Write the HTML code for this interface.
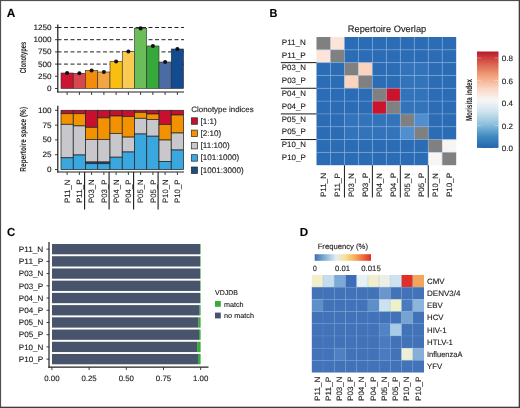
<!DOCTYPE html>
<html><head><meta charset="utf-8"><style>
html,body{margin:0;padding:0;background:#fff;}
body{position:relative;width:520px;height:408px;overflow:hidden;}
svg{display:block;filter:blur(0.3px);}
svg.ov{position:absolute;left:0;top:0;filter:none;}
text{font-family:"Liberation Sans", sans-serif;text-rendering:geometricPrecision;stroke:#222;stroke-width:0.12px;}
</style></head><body>
<svg width="520" height="408" viewBox="0 0 520 408">
<rect x="0" y="0" width="520" height="408" fill="#fff"/>
<text x="6.8" y="17.4" font-size="11.8" text-anchor="start" fill="#000" font-weight="bold" textLength="8.6" lengthAdjust="spacingAndGlyphs">A</text>
<line x1="57.5" y1="64.1" x2="184" y2="64.1" stroke="#222" stroke-width="1.0" stroke-dasharray="4 2.5"/>
<line x1="57.5" y1="51.9" x2="184" y2="51.9" stroke="#222" stroke-width="1.0" stroke-dasharray="4 2.5"/>
<line x1="57.5" y1="39.7" x2="184" y2="39.7" stroke="#222" stroke-width="1.0" stroke-dasharray="4 2.5"/>
<line x1="57.5" y1="27.5" x2="184" y2="27.5" stroke="#222" stroke-width="1.0" stroke-dasharray="4 2.5"/>
<rect x="61" y="73" width="12.25" height="15.5" fill="#CC1430" stroke="#2a2a2a" stroke-width="0.6"/>
<rect x="73.25" y="73.3" width="12.25" height="15.2" fill="#D9474E" stroke="#2a2a2a" stroke-width="0.6"/>
<rect x="85.5" y="70.5" width="12.25" height="18" fill="#F28C0A" stroke="#2a2a2a" stroke-width="0.6"/>
<rect x="97.75" y="72" width="12.25" height="16.5" fill="#F5A444" stroke="#2a2a2a" stroke-width="0.6"/>
<rect x="110" y="61.5" width="12.25" height="27" fill="#F9BE10" stroke="#2a2a2a" stroke-width="0.6"/>
<rect x="122.25" y="51.5" width="12.25" height="37" fill="#FACB52" stroke="#2a2a2a" stroke-width="0.6"/>
<rect x="134.5" y="28.4" width="12.25" height="60.1" fill="#6BBD5A" stroke="#2a2a2a" stroke-width="0.6"/>
<rect x="146.75" y="46" width="12.25" height="42.5" fill="#36A93A" stroke="#2a2a2a" stroke-width="0.6"/>
<rect x="159" y="62" width="12.25" height="26.5" fill="#4A6BA3" stroke="#2a2a2a" stroke-width="0.6"/>
<rect x="171.25" y="49" width="12.25" height="39.5" fill="#124C8E" stroke="#2a2a2a" stroke-width="0.6"/>
<circle cx="67.12" cy="73" r="2.05" fill="#111"/>
<circle cx="79.38" cy="73.3" r="2.05" fill="#111"/>
<circle cx="91.62" cy="70.5" r="2.05" fill="#111"/>
<circle cx="103.88" cy="72" r="2.05" fill="#111"/>
<circle cx="116.12" cy="61.5" r="2.05" fill="#111"/>
<circle cx="128.38" cy="51.5" r="2.05" fill="#111"/>
<circle cx="140.62" cy="28.4" r="2.05" fill="#111"/>
<circle cx="152.88" cy="46" r="2.05" fill="#111"/>
<circle cx="165.12" cy="62" r="2.05" fill="#111"/>
<circle cx="177.38" cy="49" r="2.05" fill="#111"/>
<line x1="57.8" y1="24.5" x2="57.8" y2="92.5" stroke="#222" stroke-width="1.25"/>
<line x1="57.2" y1="92" x2="184" y2="92" stroke="#222" stroke-width="1.2"/>
<line x1="55" y1="88.5" x2="58" y2="88.5" stroke="#2a2a2a" stroke-width="0.9"/>
<text x="51.6" y="91" font-size="7.8" text-anchor="end" fill="#1a1a1a" textLength="4.55" lengthAdjust="spacingAndGlyphs">0</text>
<line x1="55" y1="76.3" x2="58" y2="76.3" stroke="#2a2a2a" stroke-width="0.9"/>
<text x="51.6" y="78.8" font-size="7.8" text-anchor="end" fill="#1a1a1a" textLength="13.65" lengthAdjust="spacingAndGlyphs">250</text>
<line x1="55" y1="64.1" x2="58" y2="64.1" stroke="#2a2a2a" stroke-width="0.9"/>
<text x="51.6" y="66.6" font-size="7.8" text-anchor="end" fill="#1a1a1a" textLength="13.65" lengthAdjust="spacingAndGlyphs">500</text>
<line x1="55" y1="51.9" x2="58" y2="51.9" stroke="#2a2a2a" stroke-width="0.9"/>
<text x="51.6" y="54.4" font-size="7.8" text-anchor="end" fill="#1a1a1a" textLength="13.65" lengthAdjust="spacingAndGlyphs">750</text>
<line x1="55" y1="39.7" x2="58" y2="39.7" stroke="#2a2a2a" stroke-width="0.9"/>
<text x="51.6" y="42.2" font-size="7.8" text-anchor="end" fill="#1a1a1a" textLength="18.2" lengthAdjust="spacingAndGlyphs">1000</text>
<line x1="55" y1="27.5" x2="58" y2="27.5" stroke="#2a2a2a" stroke-width="0.9"/>
<text x="51.6" y="30" font-size="7.8" text-anchor="end" fill="#1a1a1a" textLength="18.2" lengthAdjust="spacingAndGlyphs">1250</text>
<line x1="67.12" y1="92" x2="67.12" y2="95" stroke="#2a2a2a" stroke-width="0.9"/>
<line x1="79.38" y1="92" x2="79.38" y2="95" stroke="#2a2a2a" stroke-width="0.9"/>
<line x1="91.62" y1="92" x2="91.62" y2="95" stroke="#2a2a2a" stroke-width="0.9"/>
<line x1="103.88" y1="92" x2="103.88" y2="95" stroke="#2a2a2a" stroke-width="0.9"/>
<line x1="116.12" y1="92" x2="116.12" y2="95" stroke="#2a2a2a" stroke-width="0.9"/>
<line x1="128.38" y1="92" x2="128.38" y2="95" stroke="#2a2a2a" stroke-width="0.9"/>
<line x1="140.62" y1="92" x2="140.62" y2="95" stroke="#2a2a2a" stroke-width="0.9"/>
<line x1="152.88" y1="92" x2="152.88" y2="95" stroke="#2a2a2a" stroke-width="0.9"/>
<line x1="165.12" y1="92" x2="165.12" y2="95" stroke="#2a2a2a" stroke-width="0.9"/>
<line x1="177.38" y1="92" x2="177.38" y2="95" stroke="#2a2a2a" stroke-width="0.9"/>
<text x="26.3" y="57.6" font-size="8.6" text-anchor="middle" fill="#1a1a1a" font-weight="bold" textLength="31.4" lengthAdjust="spacingAndGlyphs" transform="rotate(-90 26.3 57.6)" style="stroke-width:0px">Clonotypes</text>
<rect x="61" y="110.3" width="12.25" height="3.4" fill="#C8102E" stroke="#252525" stroke-width="0.75"/>
<rect x="61" y="113.7" width="12.25" height="10.6" fill="#F39200" stroke="#252525" stroke-width="0.75"/>
<rect x="61" y="124.3" width="12.25" height="33.5" fill="#C8C8CC" stroke="#252525" stroke-width="0.75"/>
<rect x="61" y="157.8" width="12.25" height="11.7" fill="#3AA8DE" stroke="#252525" stroke-width="0.75"/>
<rect x="73.25" y="110.3" width="12.25" height="3.4" fill="#C8102E" stroke="#252525" stroke-width="0.75"/>
<rect x="73.25" y="113.7" width="12.25" height="12.2" fill="#F39200" stroke="#252525" stroke-width="0.75"/>
<rect x="73.25" y="125.9" width="12.25" height="29.1" fill="#C8C8CC" stroke="#252525" stroke-width="0.75"/>
<rect x="73.25" y="155" width="12.25" height="14.5" fill="#3AA8DE" stroke="#252525" stroke-width="0.75"/>
<rect x="85.5" y="110.3" width="12.25" height="17" fill="#C8102E" stroke="#252525" stroke-width="0.75"/>
<rect x="85.5" y="127.3" width="12.25" height="12.1" fill="#F39200" stroke="#252525" stroke-width="0.75"/>
<rect x="85.5" y="139.4" width="12.25" height="22.6" fill="#C8C8CC" stroke="#252525" stroke-width="0.75"/>
<rect x="85.5" y="162" width="12.25" height="1.7" fill="#1A4F86" stroke="#252525" stroke-width="0.75"/>
<rect x="85.5" y="163.7" width="12.25" height="5.8" fill="#3AA8DE" stroke="#252525" stroke-width="0.75"/>
<rect x="97.75" y="110.3" width="12.25" height="7.6" fill="#C8102E" stroke="#252525" stroke-width="0.75"/>
<rect x="97.75" y="117.9" width="12.25" height="21.5" fill="#F39200" stroke="#252525" stroke-width="0.75"/>
<rect x="97.75" y="139.4" width="12.25" height="22.6" fill="#C8C8CC" stroke="#252525" stroke-width="0.75"/>
<rect x="97.75" y="162" width="12.25" height="1.7" fill="#1A4F86" stroke="#252525" stroke-width="0.75"/>
<rect x="97.75" y="163.7" width="12.25" height="5.8" fill="#3AA8DE" stroke="#252525" stroke-width="0.75"/>
<rect x="110" y="110.3" width="12.25" height="5.7" fill="#C8102E" stroke="#252525" stroke-width="0.75"/>
<rect x="110" y="116" width="12.25" height="17.4" fill="#F39200" stroke="#252525" stroke-width="0.75"/>
<rect x="110" y="133.4" width="12.25" height="23.8" fill="#C8C8CC" stroke="#252525" stroke-width="0.75"/>
<rect x="110" y="157.2" width="12.25" height="12.3" fill="#3AA8DE" stroke="#252525" stroke-width="0.75"/>
<rect x="122.25" y="110.3" width="12.25" height="6.2" fill="#C8102E" stroke="#252525" stroke-width="0.75"/>
<rect x="122.25" y="116.5" width="12.25" height="20.6" fill="#F39200" stroke="#252525" stroke-width="0.75"/>
<rect x="122.25" y="137.1" width="12.25" height="14.9" fill="#C8C8CC" stroke="#252525" stroke-width="0.75"/>
<rect x="122.25" y="152" width="12.25" height="17.5" fill="#3AA8DE" stroke="#252525" stroke-width="0.75"/>
<rect x="134.5" y="110.3" width="12.25" height="2" fill="#C8102E" stroke="#252525" stroke-width="0.75"/>
<rect x="134.5" y="112.3" width="12.25" height="6" fill="#F39200" stroke="#252525" stroke-width="0.75"/>
<rect x="134.5" y="118.3" width="12.25" height="15.7" fill="#C8C8CC" stroke="#252525" stroke-width="0.75"/>
<rect x="134.5" y="134" width="12.25" height="35.5" fill="#3AA8DE" stroke="#252525" stroke-width="0.75"/>
<rect x="146.75" y="110.3" width="12.25" height="3.7" fill="#C8102E" stroke="#252525" stroke-width="0.75"/>
<rect x="146.75" y="114" width="12.25" height="5.4" fill="#F39200" stroke="#252525" stroke-width="0.75"/>
<rect x="146.75" y="119.4" width="12.25" height="16.8" fill="#C8C8CC" stroke="#252525" stroke-width="0.75"/>
<rect x="146.75" y="136.2" width="12.25" height="33.3" fill="#3AA8DE" stroke="#252525" stroke-width="0.75"/>
<rect x="159" y="110.3" width="12.25" height="14.2" fill="#C8102E" stroke="#252525" stroke-width="0.75"/>
<rect x="159" y="124.5" width="12.25" height="15.5" fill="#F39200" stroke="#252525" stroke-width="0.75"/>
<rect x="159" y="140" width="12.25" height="21.5" fill="#C8C8CC" stroke="#252525" stroke-width="0.75"/>
<rect x="159" y="161.5" width="12.25" height="8" fill="#3AA8DE" stroke="#252525" stroke-width="0.75"/>
<rect x="171.25" y="110.3" width="12.25" height="4.7" fill="#C8102E" stroke="#252525" stroke-width="0.75"/>
<rect x="171.25" y="115" width="12.25" height="18" fill="#F39200" stroke="#252525" stroke-width="0.75"/>
<rect x="171.25" y="133" width="12.25" height="17" fill="#C8C8CC" stroke="#252525" stroke-width="0.75"/>
<rect x="171.25" y="150" width="12.25" height="19.5" fill="#3AA8DE" stroke="#252525" stroke-width="0.75"/>
<line x1="57.8" y1="105.8" x2="57.8" y2="172.5" stroke="#222" stroke-width="1.25"/>
<line x1="57.2" y1="172" x2="184" y2="172" stroke="#222" stroke-width="1.2"/>
<line x1="55" y1="169.5" x2="58" y2="169.5" stroke="#2a2a2a" stroke-width="0.9"/>
<text x="51.6" y="171.9" font-size="7.8" text-anchor="end" fill="#1a1a1a" textLength="4.55" lengthAdjust="spacingAndGlyphs">0</text>
<line x1="55" y1="154.7" x2="58" y2="154.7" stroke="#2a2a2a" stroke-width="0.9"/>
<text x="51.6" y="157.1" font-size="7.8" text-anchor="end" fill="#1a1a1a" textLength="9.1" lengthAdjust="spacingAndGlyphs">25</text>
<line x1="55" y1="139.9" x2="58" y2="139.9" stroke="#2a2a2a" stroke-width="0.9"/>
<text x="51.6" y="142.3" font-size="7.8" text-anchor="end" fill="#1a1a1a" textLength="9.1" lengthAdjust="spacingAndGlyphs">50</text>
<line x1="55" y1="125.1" x2="58" y2="125.1" stroke="#2a2a2a" stroke-width="0.9"/>
<text x="51.6" y="127.5" font-size="7.8" text-anchor="end" fill="#1a1a1a" textLength="9.1" lengthAdjust="spacingAndGlyphs">75</text>
<line x1="55" y1="110.3" x2="58" y2="110.3" stroke="#2a2a2a" stroke-width="0.9"/>
<text x="51.6" y="112.7" font-size="7.8" text-anchor="end" fill="#1a1a1a" textLength="13.65" lengthAdjust="spacingAndGlyphs">100</text>
<line x1="67.12" y1="172" x2="67.12" y2="175" stroke="#2a2a2a" stroke-width="0.9"/>
<text x="69.83" y="179.5" font-size="7.8" text-anchor="end" fill="#1a1a1a" textLength="23.5" lengthAdjust="spacingAndGlyphs" transform="rotate(-90 69.83 179.5)">P11_N</text>
<line x1="79.38" y1="172" x2="79.38" y2="175" stroke="#2a2a2a" stroke-width="0.9"/>
<text x="82.08" y="179.5" font-size="7.8" text-anchor="end" fill="#1a1a1a" textLength="23.5" lengthAdjust="spacingAndGlyphs" transform="rotate(-90 82.08 179.5)">P11_P</text>
<line x1="91.62" y1="172" x2="91.62" y2="175" stroke="#2a2a2a" stroke-width="0.9"/>
<text x="94.33" y="179.5" font-size="7.8" text-anchor="end" fill="#1a1a1a" textLength="23.5" lengthAdjust="spacingAndGlyphs" transform="rotate(-90 94.33 179.5)">P03_N</text>
<line x1="103.88" y1="172" x2="103.88" y2="175" stroke="#2a2a2a" stroke-width="0.9"/>
<text x="106.58" y="179.5" font-size="7.8" text-anchor="end" fill="#1a1a1a" textLength="23.5" lengthAdjust="spacingAndGlyphs" transform="rotate(-90 106.58 179.5)">P03_P</text>
<line x1="116.12" y1="172" x2="116.12" y2="175" stroke="#2a2a2a" stroke-width="0.9"/>
<text x="118.83" y="179.5" font-size="7.8" text-anchor="end" fill="#1a1a1a" textLength="23.5" lengthAdjust="spacingAndGlyphs" transform="rotate(-90 118.83 179.5)">P04_N</text>
<line x1="128.38" y1="172" x2="128.38" y2="175" stroke="#2a2a2a" stroke-width="0.9"/>
<text x="131.07" y="179.5" font-size="7.8" text-anchor="end" fill="#1a1a1a" textLength="23.5" lengthAdjust="spacingAndGlyphs" transform="rotate(-90 131.07 179.5)">P04_P</text>
<line x1="140.62" y1="172" x2="140.62" y2="175" stroke="#2a2a2a" stroke-width="0.9"/>
<text x="143.32" y="179.5" font-size="7.8" text-anchor="end" fill="#1a1a1a" textLength="23.5" lengthAdjust="spacingAndGlyphs" transform="rotate(-90 143.32 179.5)">P05_N</text>
<line x1="152.88" y1="172" x2="152.88" y2="175" stroke="#2a2a2a" stroke-width="0.9"/>
<text x="155.57" y="179.5" font-size="7.8" text-anchor="end" fill="#1a1a1a" textLength="23.5" lengthAdjust="spacingAndGlyphs" transform="rotate(-90 155.57 179.5)">P05_P</text>
<line x1="165.12" y1="172" x2="165.12" y2="175" stroke="#2a2a2a" stroke-width="0.9"/>
<text x="167.82" y="179.5" font-size="7.8" text-anchor="end" fill="#1a1a1a" textLength="23.5" lengthAdjust="spacingAndGlyphs" transform="rotate(-90 167.82 179.5)">P10_N</text>
<line x1="177.38" y1="172" x2="177.38" y2="175" stroke="#2a2a2a" stroke-width="0.9"/>
<text x="180.07" y="179.5" font-size="7.8" text-anchor="end" fill="#1a1a1a" textLength="23.5" lengthAdjust="spacingAndGlyphs" transform="rotate(-90 180.07 179.5)">P10_P</text>
<line x1="84.6" y1="172" x2="84.6" y2="209.5" stroke="#1a1a1a" stroke-width="1.1"/>
<line x1="109.1" y1="172" x2="109.1" y2="209.5" stroke="#1a1a1a" stroke-width="1.1"/>
<line x1="133.6" y1="172" x2="133.6" y2="209.5" stroke="#1a1a1a" stroke-width="1.1"/>
<line x1="158.1" y1="172" x2="158.1" y2="209.5" stroke="#1a1a1a" stroke-width="1.1"/>
<text x="26.3" y="139.3" font-size="8.6" text-anchor="middle" fill="#1a1a1a" font-weight="bold" textLength="64.7" lengthAdjust="spacingAndGlyphs" transform="rotate(-90 26.3 139.3)" style="stroke-width:0px">Repertoire space (%)</text>
<text x="191.3" y="111.7" font-size="7.9" text-anchor="start" fill="#1a1a1a" textLength="62.3" lengthAdjust="spacingAndGlyphs">Clonotype indices</text>
<rect x="191.3" y="117.8" width="6.2" height="6.5" fill="#C8102E" stroke="#2a2a2a" stroke-width="0.7"/>
<text x="200.6" y="123.5" font-size="8.1" text-anchor="start" fill="#1a1a1a">[1:1)</text>
<rect x="191.3" y="130.1" width="6.2" height="6.5" fill="#F39200" stroke="#2a2a2a" stroke-width="0.7"/>
<text x="200.6" y="135.8" font-size="8.1" text-anchor="start" fill="#1a1a1a">[2:10)</text>
<rect x="191.3" y="142.4" width="6.2" height="6.5" fill="#C8C8CC" stroke="#2a2a2a" stroke-width="0.7"/>
<text x="200.6" y="148.1" font-size="8.1" text-anchor="start" fill="#1a1a1a">[11:100)</text>
<rect x="191.3" y="154.7" width="6.2" height="6.5" fill="#3AA8DE" stroke="#2a2a2a" stroke-width="0.7"/>
<text x="200.6" y="160.4" font-size="8.1" text-anchor="start" fill="#1a1a1a">[101:1000)</text>
<rect x="191.3" y="167" width="6.2" height="6.5" fill="#1A4F86" stroke="#2a2a2a" stroke-width="0.7"/>
<text x="200.6" y="172.7" font-size="8.1" text-anchor="start" fill="#1a1a1a">[1001:3000)</text>
<text x="269.6" y="17.1" font-size="11.6" text-anchor="start" fill="#000" font-weight="bold" textLength="7.9" lengthAdjust="spacingAndGlyphs">B</text>
<text x="387" y="31.7" font-size="9.3" text-anchor="middle" fill="#1a1a1a" textLength="78.5" lengthAdjust="spacingAndGlyphs">Repertoire Overlap</text>
<rect x="316.5" y="37" width="13.97" height="12.82" fill="#808080"/>
<rect x="330.47" y="37" width="13.97" height="12.82" fill="#FCE5D8"/>
<rect x="344.44" y="37" width="13.97" height="12.82" fill="#2B6CB4"/>
<rect x="358.41" y="37" width="13.97" height="12.82" fill="#2B6CB4"/>
<rect x="372.38" y="37" width="13.97" height="12.82" fill="#2B6CB4"/>
<rect x="386.35" y="37" width="13.97" height="12.82" fill="#2B6CB4"/>
<rect x="400.32" y="37" width="13.97" height="12.82" fill="#2B6CB4"/>
<rect x="414.29" y="37" width="13.97" height="12.82" fill="#2B6CB4"/>
<rect x="428.26" y="37" width="13.97" height="12.82" fill="#2B6CB4"/>
<rect x="442.23" y="37" width="13.97" height="12.82" fill="#2B6CB4"/>
<rect x="316.5" y="49.82" width="13.97" height="12.82" fill="#FCE5D8"/>
<rect x="330.47" y="49.82" width="13.97" height="12.82" fill="#808080"/>
<rect x="344.44" y="49.82" width="13.97" height="12.82" fill="#2B6CB4"/>
<rect x="358.41" y="49.82" width="13.97" height="12.82" fill="#2B6CB4"/>
<rect x="372.38" y="49.82" width="13.97" height="12.82" fill="#2B6CB4"/>
<rect x="386.35" y="49.82" width="13.97" height="12.82" fill="#2B6CB4"/>
<rect x="400.32" y="49.82" width="13.97" height="12.82" fill="#2B6CB4"/>
<rect x="414.29" y="49.82" width="13.97" height="12.82" fill="#2B6CB4"/>
<rect x="428.26" y="49.82" width="13.97" height="12.82" fill="#2B6CB4"/>
<rect x="442.23" y="49.82" width="13.97" height="12.82" fill="#2B6CB4"/>
<rect x="316.5" y="62.64" width="13.97" height="12.82" fill="#2B6CB4"/>
<rect x="330.47" y="62.64" width="13.97" height="12.82" fill="#2B6CB4"/>
<rect x="344.44" y="62.64" width="13.97" height="12.82" fill="#808080"/>
<rect x="358.41" y="62.64" width="13.97" height="12.82" fill="#FCD3BC"/>
<rect x="372.38" y="62.64" width="13.97" height="12.82" fill="#2B6CB4"/>
<rect x="386.35" y="62.64" width="13.97" height="12.82" fill="#2B6CB4"/>
<rect x="400.32" y="62.64" width="13.97" height="12.82" fill="#3273BA"/>
<rect x="414.29" y="62.64" width="13.97" height="12.82" fill="#3273BA"/>
<rect x="428.26" y="62.64" width="13.97" height="12.82" fill="#2B6CB4"/>
<rect x="442.23" y="62.64" width="13.97" height="12.82" fill="#2B6CB4"/>
<rect x="316.5" y="75.46" width="13.97" height="12.82" fill="#2B6CB4"/>
<rect x="330.47" y="75.46" width="13.97" height="12.82" fill="#2B6CB4"/>
<rect x="344.44" y="75.46" width="13.97" height="12.82" fill="#FCD3BC"/>
<rect x="358.41" y="75.46" width="13.97" height="12.82" fill="#808080"/>
<rect x="372.38" y="75.46" width="13.97" height="12.82" fill="#2B6CB4"/>
<rect x="386.35" y="75.46" width="13.97" height="12.82" fill="#2B6CB4"/>
<rect x="400.32" y="75.46" width="13.97" height="12.82" fill="#3273BA"/>
<rect x="414.29" y="75.46" width="13.97" height="12.82" fill="#3273BA"/>
<rect x="428.26" y="75.46" width="13.97" height="12.82" fill="#2B6CB4"/>
<rect x="442.23" y="75.46" width="13.97" height="12.82" fill="#2B6CB4"/>
<rect x="316.5" y="88.28" width="13.97" height="12.82" fill="#2B6CB4"/>
<rect x="330.47" y="88.28" width="13.97" height="12.82" fill="#2B6CB4"/>
<rect x="344.44" y="88.28" width="13.97" height="12.82" fill="#2B6CB4"/>
<rect x="358.41" y="88.28" width="13.97" height="12.82" fill="#2B6CB4"/>
<rect x="372.38" y="88.28" width="13.97" height="12.82" fill="#808080"/>
<rect x="386.35" y="88.28" width="13.97" height="12.82" fill="#C9142B"/>
<rect x="400.32" y="88.28" width="13.97" height="12.82" fill="#3273BA"/>
<rect x="414.29" y="88.28" width="13.97" height="12.82" fill="#3273BA"/>
<rect x="428.26" y="88.28" width="13.97" height="12.82" fill="#2B6CB4"/>
<rect x="442.23" y="88.28" width="13.97" height="12.82" fill="#2B6CB4"/>
<rect x="316.5" y="101.1" width="13.97" height="12.82" fill="#2B6CB4"/>
<rect x="330.47" y="101.1" width="13.97" height="12.82" fill="#2B6CB4"/>
<rect x="344.44" y="101.1" width="13.97" height="12.82" fill="#2B6CB4"/>
<rect x="358.41" y="101.1" width="13.97" height="12.82" fill="#2B6CB4"/>
<rect x="372.38" y="101.1" width="13.97" height="12.82" fill="#C9142B"/>
<rect x="386.35" y="101.1" width="13.97" height="12.82" fill="#808080"/>
<rect x="400.32" y="101.1" width="13.97" height="12.82" fill="#3273BA"/>
<rect x="414.29" y="101.1" width="13.97" height="12.82" fill="#3273BA"/>
<rect x="428.26" y="101.1" width="13.97" height="12.82" fill="#2B6CB4"/>
<rect x="442.23" y="101.1" width="13.97" height="12.82" fill="#2B6CB4"/>
<rect x="316.5" y="113.92" width="13.97" height="12.82" fill="#2B6CB4"/>
<rect x="330.47" y="113.92" width="13.97" height="12.82" fill="#2B6CB4"/>
<rect x="344.44" y="113.92" width="13.97" height="12.82" fill="#3273BA"/>
<rect x="358.41" y="113.92" width="13.97" height="12.82" fill="#3273BA"/>
<rect x="372.38" y="113.92" width="13.97" height="12.82" fill="#3273BA"/>
<rect x="386.35" y="113.92" width="13.97" height="12.82" fill="#3273BA"/>
<rect x="400.32" y="113.92" width="13.97" height="12.82" fill="#808080"/>
<rect x="414.29" y="113.92" width="13.97" height="12.82" fill="#508ECD"/>
<rect x="428.26" y="113.92" width="13.97" height="12.82" fill="#2B6CB4"/>
<rect x="442.23" y="113.92" width="13.97" height="12.82" fill="#2B6CB4"/>
<rect x="316.5" y="126.74" width="13.97" height="12.82" fill="#2B6CB4"/>
<rect x="330.47" y="126.74" width="13.97" height="12.82" fill="#2B6CB4"/>
<rect x="344.44" y="126.74" width="13.97" height="12.82" fill="#3273BA"/>
<rect x="358.41" y="126.74" width="13.97" height="12.82" fill="#3273BA"/>
<rect x="372.38" y="126.74" width="13.97" height="12.82" fill="#3273BA"/>
<rect x="386.35" y="126.74" width="13.97" height="12.82" fill="#3273BA"/>
<rect x="400.32" y="126.74" width="13.97" height="12.82" fill="#508ECD"/>
<rect x="414.29" y="126.74" width="13.97" height="12.82" fill="#808080"/>
<rect x="428.26" y="126.74" width="13.97" height="12.82" fill="#2B6CB4"/>
<rect x="442.23" y="126.74" width="13.97" height="12.82" fill="#2B6CB4"/>
<rect x="316.5" y="139.56" width="13.97" height="12.82" fill="#2B6CB4"/>
<rect x="330.47" y="139.56" width="13.97" height="12.82" fill="#2B6CB4"/>
<rect x="344.44" y="139.56" width="13.97" height="12.82" fill="#2B6CB4"/>
<rect x="358.41" y="139.56" width="13.97" height="12.82" fill="#2B6CB4"/>
<rect x="372.38" y="139.56" width="13.97" height="12.82" fill="#2B6CB4"/>
<rect x="386.35" y="139.56" width="13.97" height="12.82" fill="#2B6CB4"/>
<rect x="400.32" y="139.56" width="13.97" height="12.82" fill="#2B6CB4"/>
<rect x="414.29" y="139.56" width="13.97" height="12.82" fill="#2B6CB4"/>
<rect x="428.26" y="139.56" width="13.97" height="12.82" fill="#808080"/>
<rect x="442.23" y="139.56" width="13.97" height="12.82" fill="#F8F4F2"/>
<rect x="316.5" y="152.38" width="13.97" height="12.82" fill="#2B6CB4"/>
<rect x="330.47" y="152.38" width="13.97" height="12.82" fill="#2B6CB4"/>
<rect x="344.44" y="152.38" width="13.97" height="12.82" fill="#2B6CB4"/>
<rect x="358.41" y="152.38" width="13.97" height="12.82" fill="#2B6CB4"/>
<rect x="372.38" y="152.38" width="13.97" height="12.82" fill="#2B6CB4"/>
<rect x="386.35" y="152.38" width="13.97" height="12.82" fill="#2B6CB4"/>
<rect x="400.32" y="152.38" width="13.97" height="12.82" fill="#2B6CB4"/>
<rect x="414.29" y="152.38" width="13.97" height="12.82" fill="#2B6CB4"/>
<rect x="428.26" y="152.38" width="13.97" height="12.82" fill="#F8F4F2"/>
<rect x="442.23" y="152.38" width="13.97" height="12.82" fill="#808080"/>
<line x1="316.5" y1="49.82" x2="456.2" y2="49.82" stroke="#8DB8E6" stroke-width="0.6" stroke-opacity="0.7"/>
<line x1="316.5" y1="62.64" x2="456.2" y2="62.64" stroke="#8DB8E6" stroke-width="0.6" stroke-opacity="0.7"/>
<line x1="316.5" y1="75.46" x2="456.2" y2="75.46" stroke="#8DB8E6" stroke-width="0.6" stroke-opacity="0.7"/>
<line x1="316.5" y1="88.28" x2="456.2" y2="88.28" stroke="#8DB8E6" stroke-width="0.6" stroke-opacity="0.7"/>
<line x1="316.5" y1="101.1" x2="456.2" y2="101.1" stroke="#8DB8E6" stroke-width="0.6" stroke-opacity="0.7"/>
<line x1="316.5" y1="113.92" x2="456.2" y2="113.92" stroke="#8DB8E6" stroke-width="0.6" stroke-opacity="0.7"/>
<line x1="316.5" y1="126.74" x2="456.2" y2="126.74" stroke="#8DB8E6" stroke-width="0.6" stroke-opacity="0.7"/>
<line x1="316.5" y1="139.56" x2="456.2" y2="139.56" stroke="#8DB8E6" stroke-width="0.6" stroke-opacity="0.7"/>
<line x1="316.5" y1="152.38" x2="456.2" y2="152.38" stroke="#8DB8E6" stroke-width="0.6" stroke-opacity="0.7"/>
<line x1="330.47" y1="37" x2="330.47" y2="165.2" stroke="#8DB8E6" stroke-width="0.6" stroke-opacity="0.7"/>
<line x1="344.44" y1="37" x2="344.44" y2="165.2" stroke="#8DB8E6" stroke-width="0.6" stroke-opacity="0.7"/>
<line x1="358.41" y1="37" x2="358.41" y2="165.2" stroke="#8DB8E6" stroke-width="0.6" stroke-opacity="0.7"/>
<line x1="372.38" y1="37" x2="372.38" y2="165.2" stroke="#8DB8E6" stroke-width="0.6" stroke-opacity="0.7"/>
<line x1="386.35" y1="37" x2="386.35" y2="165.2" stroke="#8DB8E6" stroke-width="0.6" stroke-opacity="0.7"/>
<line x1="400.32" y1="37" x2="400.32" y2="165.2" stroke="#8DB8E6" stroke-width="0.6" stroke-opacity="0.7"/>
<line x1="414.29" y1="37" x2="414.29" y2="165.2" stroke="#8DB8E6" stroke-width="0.6" stroke-opacity="0.7"/>
<line x1="428.26" y1="37" x2="428.26" y2="165.2" stroke="#8DB8E6" stroke-width="0.6" stroke-opacity="0.7"/>
<line x1="442.23" y1="37" x2="442.23" y2="165.2" stroke="#8DB8E6" stroke-width="0.6" stroke-opacity="0.7"/>
<text x="305.8" y="44.71" font-size="7.8" text-anchor="end" fill="#1a1a1a" textLength="24" lengthAdjust="spacingAndGlyphs">P11_N</text>
<text x="305.8" y="57.53" font-size="7.8" text-anchor="end" fill="#1a1a1a" textLength="24" lengthAdjust="spacingAndGlyphs">P11_P</text>
<text x="305.8" y="70.35" font-size="7.8" text-anchor="end" fill="#1a1a1a" textLength="24" lengthAdjust="spacingAndGlyphs">P03_N</text>
<text x="305.8" y="83.17" font-size="7.8" text-anchor="end" fill="#1a1a1a" textLength="24" lengthAdjust="spacingAndGlyphs">P03_P</text>
<text x="305.8" y="95.99" font-size="7.8" text-anchor="end" fill="#1a1a1a" textLength="24" lengthAdjust="spacingAndGlyphs">P04_N</text>
<text x="305.8" y="108.81" font-size="7.8" text-anchor="end" fill="#1a1a1a" textLength="24" lengthAdjust="spacingAndGlyphs">P04_P</text>
<text x="305.8" y="121.63" font-size="7.8" text-anchor="end" fill="#1a1a1a" textLength="24" lengthAdjust="spacingAndGlyphs">P05_N</text>
<text x="305.8" y="134.45" font-size="7.8" text-anchor="end" fill="#1a1a1a" textLength="24" lengthAdjust="spacingAndGlyphs">P05_P</text>
<text x="305.8" y="147.27" font-size="7.8" text-anchor="end" fill="#1a1a1a" textLength="24" lengthAdjust="spacingAndGlyphs">P10_N</text>
<text x="305.8" y="160.09" font-size="7.8" text-anchor="end" fill="#1a1a1a" textLength="24" lengthAdjust="spacingAndGlyphs">P10_P</text>
<line x1="280.8" y1="62.64" x2="316.5" y2="62.64" stroke="#1a1a1a" stroke-width="1.0"/>
<line x1="344.44" y1="165.2" x2="344.44" y2="197.5" stroke="#1a1a1a" stroke-width="1.0"/>
<line x1="280.8" y1="88.28" x2="316.5" y2="88.28" stroke="#1a1a1a" stroke-width="1.0"/>
<line x1="372.38" y1="165.2" x2="372.38" y2="197.5" stroke="#1a1a1a" stroke-width="1.0"/>
<line x1="280.8" y1="113.92" x2="316.5" y2="113.92" stroke="#1a1a1a" stroke-width="1.0"/>
<line x1="400.32" y1="165.2" x2="400.32" y2="197.5" stroke="#1a1a1a" stroke-width="1.0"/>
<line x1="280.8" y1="139.56" x2="316.5" y2="139.56" stroke="#1a1a1a" stroke-width="1.0"/>
<line x1="428.26" y1="165.2" x2="428.26" y2="197.5" stroke="#1a1a1a" stroke-width="1.0"/>
<text x="326.29" y="173" font-size="7.8" text-anchor="end" fill="#1a1a1a" textLength="24" lengthAdjust="spacingAndGlyphs" transform="rotate(-90 326.29 173)">P11_N</text>
<text x="340.25" y="173" font-size="7.8" text-anchor="end" fill="#1a1a1a" textLength="24" lengthAdjust="spacingAndGlyphs" transform="rotate(-90 340.25 173)">P11_P</text>
<text x="354.23" y="173" font-size="7.8" text-anchor="end" fill="#1a1a1a" textLength="24" lengthAdjust="spacingAndGlyphs" transform="rotate(-90 354.23 173)">P03_N</text>
<text x="368.19" y="173" font-size="7.8" text-anchor="end" fill="#1a1a1a" textLength="24" lengthAdjust="spacingAndGlyphs" transform="rotate(-90 368.19 173)">P03_P</text>
<text x="382.17" y="173" font-size="7.8" text-anchor="end" fill="#1a1a1a" textLength="24" lengthAdjust="spacingAndGlyphs" transform="rotate(-90 382.17 173)">P04_N</text>
<text x="396.14" y="173" font-size="7.8" text-anchor="end" fill="#1a1a1a" textLength="24" lengthAdjust="spacingAndGlyphs" transform="rotate(-90 396.14 173)">P04_P</text>
<text x="410.11" y="173" font-size="7.8" text-anchor="end" fill="#1a1a1a" textLength="24" lengthAdjust="spacingAndGlyphs" transform="rotate(-90 410.11 173)">P05_N</text>
<text x="424.07" y="173" font-size="7.8" text-anchor="end" fill="#1a1a1a" textLength="24" lengthAdjust="spacingAndGlyphs" transform="rotate(-90 424.07 173)">P05_P</text>
<text x="438.05" y="173" font-size="7.8" text-anchor="end" fill="#1a1a1a" textLength="24" lengthAdjust="spacingAndGlyphs" transform="rotate(-90 438.05 173)">P10_N</text>
<text x="452.02" y="173" font-size="7.8" text-anchor="end" fill="#1a1a1a" textLength="24" lengthAdjust="spacingAndGlyphs" transform="rotate(-90 452.02 173)">P10_P</text>
<defs>
<linearGradient id="rdbu" x1="0" y1="1" x2="0" y2="0">
<stop offset="0" stop-color="#2166AC"/>
<stop offset="0.12" stop-color="#3F8AC0"/>
<stop offset="0.25" stop-color="#8EC1DD"/>
<stop offset="0.38" stop-color="#D1E5F0"/>
<stop offset="0.5" stop-color="#F7F6F6"/>
<stop offset="0.62" stop-color="#FAD5C1"/>
<stop offset="0.75" stop-color="#F2A07C"/>
<stop offset="0.88" stop-color="#D95E4B"/>
<stop offset="1" stop-color="#B8182B"/>
</linearGradient>
<linearGradient id="freq" x1="0" y1="0" x2="1" y2="0">
<stop offset="0" stop-color="#4070B3"/>
<stop offset="0.2" stop-color="#8DB6DA"/>
<stop offset="0.38" stop-color="#E3EEF2"/>
<stop offset="0.53" stop-color="#F6E49A"/>
<stop offset="0.7" stop-color="#F8B35C"/>
<stop offset="0.86" stop-color="#EE6A3C"/>
<stop offset="1" stop-color="#DC2F26"/>
</linearGradient>
</defs>
<rect x="477" y="51.5" width="21.5" height="96.5" fill="url(#rdbu)"/>
<line x1="477" y1="148" x2="481" y2="148" stroke="#fff" stroke-width="0.6" stroke-opacity="0.5"/>
<line x1="494.5" y1="148" x2="498.5" y2="148" stroke="#fff" stroke-width="0.6" stroke-opacity="0.5"/>
<text x="501.8" y="151.2" font-size="7.8" text-anchor="start" fill="#1a1a1a" textLength="11.2" lengthAdjust="spacingAndGlyphs">0.0</text>
<line x1="477" y1="125.5" x2="481" y2="125.5" stroke="#fff" stroke-width="0.6" stroke-opacity="0.5"/>
<line x1="494.5" y1="125.5" x2="498.5" y2="125.5" stroke="#fff" stroke-width="0.6" stroke-opacity="0.5"/>
<text x="501.8" y="128.7" font-size="7.8" text-anchor="start" fill="#1a1a1a" textLength="11.2" lengthAdjust="spacingAndGlyphs">0.2</text>
<line x1="477" y1="103" x2="481" y2="103" stroke="#fff" stroke-width="0.6" stroke-opacity="0.5"/>
<line x1="494.5" y1="103" x2="498.5" y2="103" stroke="#fff" stroke-width="0.6" stroke-opacity="0.5"/>
<text x="501.8" y="106.2" font-size="7.8" text-anchor="start" fill="#1a1a1a" textLength="11.2" lengthAdjust="spacingAndGlyphs">0.4</text>
<line x1="477" y1="80.5" x2="481" y2="80.5" stroke="#fff" stroke-width="0.6" stroke-opacity="0.5"/>
<line x1="494.5" y1="80.5" x2="498.5" y2="80.5" stroke="#fff" stroke-width="0.6" stroke-opacity="0.5"/>
<text x="501.8" y="83.7" font-size="7.8" text-anchor="start" fill="#1a1a1a" textLength="11.2" lengthAdjust="spacingAndGlyphs">0.6</text>
<line x1="477" y1="58" x2="481" y2="58" stroke="#fff" stroke-width="0.6" stroke-opacity="0.5"/>
<line x1="494.5" y1="58" x2="498.5" y2="58" stroke="#fff" stroke-width="0.6" stroke-opacity="0.5"/>
<text x="501.8" y="61.2" font-size="7.8" text-anchor="start" fill="#1a1a1a" textLength="11.2" lengthAdjust="spacingAndGlyphs">0.8</text>
<text x="471.8" y="100.1" font-size="8.8" text-anchor="middle" fill="#1a1a1a" font-weight="bold" textLength="42" lengthAdjust="spacingAndGlyphs" transform="rotate(-90 471.8 100.1)" style="stroke-width:0px">Morisita index</text>
<text x="7" y="236.3" font-size="11.6" text-anchor="start" fill="#000" font-weight="bold" textLength="8.2" lengthAdjust="spacingAndGlyphs">C</text>
<rect x="52" y="244" width="148" height="10.3" fill="#48546B"/>
<rect x="200" y="244" width="0.6" height="10.3" fill="#3BAA3B"/>
<line x1="46.5" y1="249.15" x2="49.2" y2="249.15" stroke="#2a2a2a" stroke-width="0.9"/>
<text x="43.3" y="251.85" font-size="7.8" text-anchor="end" fill="#1a1a1a" textLength="24.5" lengthAdjust="spacingAndGlyphs">P11_N</text>
<rect x="52" y="256.22" width="148" height="10.3" fill="#48546B"/>
<rect x="200" y="256.22" width="0.6" height="10.3" fill="#3BAA3B"/>
<line x1="46.5" y1="261.37" x2="49.2" y2="261.37" stroke="#2a2a2a" stroke-width="0.9"/>
<text x="43.3" y="264.07" font-size="7.8" text-anchor="end" fill="#1a1a1a" textLength="24.5" lengthAdjust="spacingAndGlyphs">P11_P</text>
<rect x="52" y="268.44" width="148" height="10.3" fill="#48546B"/>
<rect x="200" y="268.44" width="0.6" height="10.3" fill="#3BAA3B"/>
<line x1="46.5" y1="273.59" x2="49.2" y2="273.59" stroke="#2a2a2a" stroke-width="0.9"/>
<text x="43.3" y="276.29" font-size="7.8" text-anchor="end" fill="#1a1a1a" textLength="24.5" lengthAdjust="spacingAndGlyphs">P03_N</text>
<rect x="52" y="280.66" width="148" height="10.3" fill="#48546B"/>
<rect x="200" y="280.66" width="0.6" height="10.3" fill="#3BAA3B"/>
<line x1="46.5" y1="285.81" x2="49.2" y2="285.81" stroke="#2a2a2a" stroke-width="0.9"/>
<text x="43.3" y="288.51" font-size="7.8" text-anchor="end" fill="#1a1a1a" textLength="24.5" lengthAdjust="spacingAndGlyphs">P03_P</text>
<rect x="52" y="292.88" width="148" height="10.3" fill="#48546B"/>
<rect x="200" y="292.88" width="0.6" height="10.3" fill="#3BAA3B"/>
<line x1="46.5" y1="298.03" x2="49.2" y2="298.03" stroke="#2a2a2a" stroke-width="0.9"/>
<text x="43.3" y="300.73" font-size="7.8" text-anchor="end" fill="#1a1a1a" textLength="24.5" lengthAdjust="spacingAndGlyphs">P04_N</text>
<rect x="52" y="305.1" width="147.7" height="10.3" fill="#48546B"/>
<rect x="199.7" y="305.1" width="0.9" height="10.3" fill="#3BAA3B"/>
<line x1="46.5" y1="310.25" x2="49.2" y2="310.25" stroke="#2a2a2a" stroke-width="0.9"/>
<text x="43.3" y="312.95" font-size="7.8" text-anchor="end" fill="#1a1a1a" textLength="24.5" lengthAdjust="spacingAndGlyphs">P04_P</text>
<rect x="52" y="317.32" width="146.6" height="10.3" fill="#48546B"/>
<rect x="198.6" y="317.32" width="2" height="10.3" fill="#3BAA3B"/>
<line x1="46.5" y1="322.47" x2="49.2" y2="322.47" stroke="#2a2a2a" stroke-width="0.9"/>
<text x="43.3" y="325.17" font-size="7.8" text-anchor="end" fill="#1a1a1a" textLength="24.5" lengthAdjust="spacingAndGlyphs">P05_N</text>
<rect x="52" y="329.54" width="147" height="10.3" fill="#48546B"/>
<rect x="199" y="329.54" width="1.6" height="10.3" fill="#3BAA3B"/>
<line x1="46.5" y1="334.69" x2="49.2" y2="334.69" stroke="#2a2a2a" stroke-width="0.9"/>
<text x="43.3" y="337.39" font-size="7.8" text-anchor="end" fill="#1a1a1a" textLength="24.5" lengthAdjust="spacingAndGlyphs">P05_P</text>
<rect x="52" y="341.76" width="145.1" height="10.3" fill="#48546B"/>
<rect x="197.1" y="341.76" width="3.5" height="10.3" fill="#3BAA3B"/>
<line x1="46.5" y1="346.91" x2="49.2" y2="346.91" stroke="#2a2a2a" stroke-width="0.9"/>
<text x="43.3" y="349.61" font-size="7.8" text-anchor="end" fill="#1a1a1a" textLength="24.5" lengthAdjust="spacingAndGlyphs">P10_N</text>
<rect x="52" y="353.98" width="146" height="10.3" fill="#48546B"/>
<rect x="198" y="353.98" width="2.6" height="10.3" fill="#3BAA3B"/>
<line x1="46.5" y1="359.13" x2="49.2" y2="359.13" stroke="#2a2a2a" stroke-width="0.9"/>
<text x="43.3" y="361.83" font-size="7.8" text-anchor="end" fill="#1a1a1a" textLength="24.5" lengthAdjust="spacingAndGlyphs">P10_P</text>
<line x1="49" y1="242" x2="49" y2="367.8" stroke="#222" stroke-width="1.2"/>
<line x1="48.4" y1="367.2" x2="208.5" y2="367.2" stroke="#222" stroke-width="1.2"/>
<line x1="51.9" y1="367.2" x2="51.9" y2="370" stroke="#2a2a2a" stroke-width="0.9"/>
<text x="51.9" y="381" font-size="7.8" text-anchor="middle" fill="#1a1a1a" textLength="15.3" lengthAdjust="spacingAndGlyphs">0.00</text>
<line x1="89.1" y1="367.2" x2="89.1" y2="370" stroke="#2a2a2a" stroke-width="0.9"/>
<text x="89.1" y="381" font-size="7.8" text-anchor="middle" fill="#1a1a1a" textLength="15.3" lengthAdjust="spacingAndGlyphs">0.25</text>
<line x1="126.3" y1="367.2" x2="126.3" y2="370" stroke="#2a2a2a" stroke-width="0.9"/>
<text x="126.3" y="381" font-size="7.8" text-anchor="middle" fill="#1a1a1a" textLength="15.3" lengthAdjust="spacingAndGlyphs">0.50</text>
<line x1="163.5" y1="367.2" x2="163.5" y2="370" stroke="#2a2a2a" stroke-width="0.9"/>
<text x="163.5" y="381" font-size="7.8" text-anchor="middle" fill="#1a1a1a" textLength="15.3" lengthAdjust="spacingAndGlyphs">0.75</text>
<line x1="200.7" y1="367.2" x2="200.7" y2="370" stroke="#2a2a2a" stroke-width="0.9"/>
<text x="200.7" y="381" font-size="7.8" text-anchor="middle" fill="#1a1a1a" textLength="15.3" lengthAdjust="spacingAndGlyphs">1.00</text>
<text x="215" y="295" font-size="7.1" text-anchor="start" fill="#1a1a1a" textLength="23" lengthAdjust="spacingAndGlyphs">VDJDB</text>
<rect x="215" y="301" width="5.8" height="5.8" fill="#3BAA3B"/>
<rect x="215" y="312.6" width="5.8" height="5.8" fill="#48546B"/>
<text x="224" y="306.6" font-size="7.2" text-anchor="start" fill="#1a1a1a" textLength="19.5" lengthAdjust="spacingAndGlyphs">match</text>
<text x="224" y="318.2" font-size="7.2" text-anchor="start" fill="#1a1a1a" textLength="30" lengthAdjust="spacingAndGlyphs">no match</text>
<text x="299.8" y="236.1" font-size="11.6" text-anchor="start" fill="#000" font-weight="bold" textLength="8.4" lengthAdjust="spacingAndGlyphs">D</text>
<text x="317.7" y="249.2" font-size="7.7" text-anchor="start" fill="#1a1a1a" textLength="50.3" lengthAdjust="spacingAndGlyphs">Frequency (%)</text>
<rect x="314.7" y="254.2" width="56.3" height="6.6" fill="url(#freq)"/>
<text x="315" y="270.7" font-size="7.8" text-anchor="middle" fill="#1a1a1a" textLength="3.8" lengthAdjust="spacingAndGlyphs">0</text>
<text x="342.5" y="270.7" font-size="7.8" text-anchor="middle" fill="#1a1a1a" textLength="15" lengthAdjust="spacingAndGlyphs">0.01</text>
<text x="371" y="270.7" font-size="7.8" text-anchor="middle" fill="#1a1a1a" textLength="19.5" lengthAdjust="spacingAndGlyphs">0.015</text>
<rect x="311.8" y="275" width="11.22" height="12.19" fill="#F2F0CA"/>
<rect x="323.02" y="275" width="11.22" height="12.19" fill="#C6DDEE"/>
<rect x="334.24" y="275" width="11.22" height="12.19" fill="#7EA8D6"/>
<rect x="345.46" y="275" width="11.22" height="12.19" fill="#3D6DB7"/>
<rect x="356.68" y="275" width="11.22" height="12.19" fill="#E6F1F4"/>
<rect x="367.9" y="275" width="11.22" height="12.19" fill="#F1EECB"/>
<rect x="379.12" y="275" width="11.22" height="12.19" fill="#EAF0E4"/>
<rect x="390.34" y="275" width="11.22" height="12.19" fill="#CFE2EF"/>
<rect x="401.56" y="275" width="11.22" height="12.19" fill="#DF2F27"/>
<rect x="412.78" y="275" width="11.22" height="12.19" fill="#F5A55A"/>
<rect x="311.8" y="287.19" width="11.22" height="12.19" fill="#4272B8"/>
<rect x="323.02" y="287.19" width="11.22" height="12.19" fill="#4272B8"/>
<rect x="334.24" y="287.19" width="11.22" height="12.19" fill="#4272B8"/>
<rect x="345.46" y="287.19" width="11.22" height="12.19" fill="#4272B8"/>
<rect x="356.68" y="287.19" width="11.22" height="12.19" fill="#4272B8"/>
<rect x="367.9" y="287.19" width="11.22" height="12.19" fill="#4272B8"/>
<rect x="379.12" y="287.19" width="11.22" height="12.19" fill="#6A96CC"/>
<rect x="390.34" y="287.19" width="11.22" height="12.19" fill="#4272B8"/>
<rect x="401.56" y="287.19" width="11.22" height="12.19" fill="#4272B8"/>
<rect x="412.78" y="287.19" width="11.22" height="12.19" fill="#4272B8"/>
<rect x="311.8" y="299.38" width="11.22" height="12.19" fill="#5F8FC8"/>
<rect x="323.02" y="299.38" width="11.22" height="12.19" fill="#4272B8"/>
<rect x="334.24" y="299.38" width="11.22" height="12.19" fill="#4272B8"/>
<rect x="345.46" y="299.38" width="11.22" height="12.19" fill="#4272B8"/>
<rect x="356.68" y="299.38" width="11.22" height="12.19" fill="#4272B8"/>
<rect x="367.9" y="299.38" width="11.22" height="12.19" fill="#5F8FC8"/>
<rect x="379.12" y="299.38" width="11.22" height="12.19" fill="#CBE2F0"/>
<rect x="390.34" y="299.38" width="11.22" height="12.19" fill="#EEF0C8"/>
<rect x="401.56" y="299.38" width="11.22" height="12.19" fill="#4A7BC0"/>
<rect x="412.78" y="299.38" width="11.22" height="12.19" fill="#8DB5DB"/>
<rect x="311.8" y="311.57" width="11.22" height="12.19" fill="#4272B8"/>
<rect x="323.02" y="311.57" width="11.22" height="12.19" fill="#4272B8"/>
<rect x="334.24" y="311.57" width="11.22" height="12.19" fill="#4272B8"/>
<rect x="345.46" y="311.57" width="11.22" height="12.19" fill="#4272B8"/>
<rect x="356.68" y="311.57" width="11.22" height="12.19" fill="#4272B8"/>
<rect x="367.9" y="311.57" width="11.22" height="12.19" fill="#4272B8"/>
<rect x="379.12" y="311.57" width="11.22" height="12.19" fill="#4272B8"/>
<rect x="390.34" y="311.57" width="11.22" height="12.19" fill="#4272B8"/>
<rect x="401.56" y="311.57" width="11.22" height="12.19" fill="#77A3D3"/>
<rect x="412.78" y="311.57" width="11.22" height="12.19" fill="#4272B8"/>
<rect x="311.8" y="323.76" width="11.22" height="12.19" fill="#4272B8"/>
<rect x="323.02" y="323.76" width="11.22" height="12.19" fill="#4272B8"/>
<rect x="334.24" y="323.76" width="11.22" height="12.19" fill="#4272B8"/>
<rect x="345.46" y="323.76" width="11.22" height="12.19" fill="#4272B8"/>
<rect x="356.68" y="323.76" width="11.22" height="12.19" fill="#4272B8"/>
<rect x="367.9" y="323.76" width="11.22" height="12.19" fill="#4272B8"/>
<rect x="379.12" y="323.76" width="11.22" height="12.19" fill="#5283C4"/>
<rect x="390.34" y="323.76" width="11.22" height="12.19" fill="#A8CBE6"/>
<rect x="401.56" y="323.76" width="11.22" height="12.19" fill="#4272B8"/>
<rect x="412.78" y="323.76" width="11.22" height="12.19" fill="#4272B8"/>
<rect x="311.8" y="335.95" width="11.22" height="12.19" fill="#4272B8"/>
<rect x="323.02" y="335.95" width="11.22" height="12.19" fill="#4272B8"/>
<rect x="334.24" y="335.95" width="11.22" height="12.19" fill="#4272B8"/>
<rect x="345.46" y="335.95" width="11.22" height="12.19" fill="#4272B8"/>
<rect x="356.68" y="335.95" width="11.22" height="12.19" fill="#4272B8"/>
<rect x="367.9" y="335.95" width="11.22" height="12.19" fill="#4272B8"/>
<rect x="379.12" y="335.95" width="11.22" height="12.19" fill="#4A7BC0"/>
<rect x="390.34" y="335.95" width="11.22" height="12.19" fill="#4272B8"/>
<rect x="401.56" y="335.95" width="11.22" height="12.19" fill="#4272B8"/>
<rect x="412.78" y="335.95" width="11.22" height="12.19" fill="#4272B8"/>
<rect x="311.8" y="348.14" width="11.22" height="12.19" fill="#4272B8"/>
<rect x="323.02" y="348.14" width="11.22" height="12.19" fill="#4272B8"/>
<rect x="334.24" y="348.14" width="11.22" height="12.19" fill="#4F80C2"/>
<rect x="345.46" y="348.14" width="11.22" height="12.19" fill="#4272B8"/>
<rect x="356.68" y="348.14" width="11.22" height="12.19" fill="#4272B8"/>
<rect x="367.9" y="348.14" width="11.22" height="12.19" fill="#4272B8"/>
<rect x="379.12" y="348.14" width="11.22" height="12.19" fill="#4A7BC0"/>
<rect x="390.34" y="348.14" width="11.22" height="12.19" fill="#4272B8"/>
<rect x="401.56" y="348.14" width="11.22" height="12.19" fill="#EEF0D5"/>
<rect x="412.78" y="348.14" width="11.22" height="12.19" fill="#86AFD8"/>
<rect x="311.8" y="360.33" width="11.22" height="12.19" fill="#4272B8"/>
<rect x="323.02" y="360.33" width="11.22" height="12.19" fill="#4272B8"/>
<rect x="334.24" y="360.33" width="11.22" height="12.19" fill="#4272B8"/>
<rect x="345.46" y="360.33" width="11.22" height="12.19" fill="#4272B8"/>
<rect x="356.68" y="360.33" width="11.22" height="12.19" fill="#4272B8"/>
<rect x="367.9" y="360.33" width="11.22" height="12.19" fill="#4272B8"/>
<rect x="379.12" y="360.33" width="11.22" height="12.19" fill="#4272B8"/>
<rect x="390.34" y="360.33" width="11.22" height="12.19" fill="#4272B8"/>
<rect x="401.56" y="360.33" width="11.22" height="12.19" fill="#4272B8"/>
<rect x="412.78" y="360.33" width="11.22" height="12.19" fill="#4272B8"/>
<line x1="311.8" y1="287.19" x2="424" y2="287.19" stroke="#7AA0D8" stroke-width="0.5" stroke-opacity="0.5"/>
<line x1="311.8" y1="299.38" x2="424" y2="299.38" stroke="#7AA0D8" stroke-width="0.5" stroke-opacity="0.5"/>
<line x1="311.8" y1="311.57" x2="424" y2="311.57" stroke="#7AA0D8" stroke-width="0.5" stroke-opacity="0.5"/>
<line x1="311.8" y1="323.76" x2="424" y2="323.76" stroke="#7AA0D8" stroke-width="0.5" stroke-opacity="0.5"/>
<line x1="311.8" y1="335.95" x2="424" y2="335.95" stroke="#7AA0D8" stroke-width="0.5" stroke-opacity="0.5"/>
<line x1="311.8" y1="348.14" x2="424" y2="348.14" stroke="#7AA0D8" stroke-width="0.5" stroke-opacity="0.5"/>
<line x1="311.8" y1="360.33" x2="424" y2="360.33" stroke="#7AA0D8" stroke-width="0.5" stroke-opacity="0.5"/>
<line x1="323.02" y1="275" x2="323.02" y2="372.52" stroke="#7AA0D8" stroke-width="0.5" stroke-opacity="0.5"/>
<line x1="334.24" y1="275" x2="334.24" y2="372.52" stroke="#7AA0D8" stroke-width="0.5" stroke-opacity="0.5"/>
<line x1="345.46" y1="275" x2="345.46" y2="372.52" stroke="#7AA0D8" stroke-width="0.5" stroke-opacity="0.5"/>
<line x1="356.68" y1="275" x2="356.68" y2="372.52" stroke="#7AA0D8" stroke-width="0.5" stroke-opacity="0.5"/>
<line x1="367.9" y1="275" x2="367.9" y2="372.52" stroke="#7AA0D8" stroke-width="0.5" stroke-opacity="0.5"/>
<line x1="379.12" y1="275" x2="379.12" y2="372.52" stroke="#7AA0D8" stroke-width="0.5" stroke-opacity="0.5"/>
<line x1="390.34" y1="275" x2="390.34" y2="372.52" stroke="#7AA0D8" stroke-width="0.5" stroke-opacity="0.5"/>
<line x1="401.56" y1="275" x2="401.56" y2="372.52" stroke="#7AA0D8" stroke-width="0.5" stroke-opacity="0.5"/>
<line x1="412.78" y1="275" x2="412.78" y2="372.52" stroke="#7AA0D8" stroke-width="0.5" stroke-opacity="0.5"/>
<text x="427" y="283.9" font-size="7.8" text-anchor="start" fill="#1a1a1a" textLength="17.5" lengthAdjust="spacingAndGlyphs">CMV</text>
<text x="427" y="296.09" font-size="7.8" text-anchor="start" fill="#1a1a1a" textLength="33.5" lengthAdjust="spacingAndGlyphs">DENV3/4</text>
<text x="427" y="308.28" font-size="7.8" text-anchor="start" fill="#1a1a1a">EBV</text>
<text x="427" y="320.47" font-size="7.8" text-anchor="start" fill="#1a1a1a">HCV</text>
<text x="427" y="332.66" font-size="7.8" text-anchor="start" fill="#1a1a1a">HIV-1</text>
<text x="427" y="344.85" font-size="7.8" text-anchor="start" fill="#1a1a1a">HTLV-1</text>
<text x="427" y="357.04" font-size="7.8" text-anchor="start" fill="#1a1a1a" textLength="35.4" lengthAdjust="spacingAndGlyphs">InfluenzaA</text>
<text x="427" y="369.23" font-size="7.8" text-anchor="start" fill="#1a1a1a">YFV</text>
<text x="319.61" y="376.6" font-size="7.8" text-anchor="end" fill="#1a1a1a" textLength="24.3" lengthAdjust="spacingAndGlyphs" transform="rotate(-90 319.61 376.6)">P11_N</text>
<text x="330.83" y="376.6" font-size="7.8" text-anchor="end" fill="#1a1a1a" textLength="24.3" lengthAdjust="spacingAndGlyphs" transform="rotate(-90 330.83 376.6)">P11_P</text>
<text x="342.05" y="376.6" font-size="7.8" text-anchor="end" fill="#1a1a1a" textLength="24.3" lengthAdjust="spacingAndGlyphs" transform="rotate(-90 342.05 376.6)">P03_N</text>
<text x="353.27" y="376.6" font-size="7.8" text-anchor="end" fill="#1a1a1a" textLength="24.3" lengthAdjust="spacingAndGlyphs" transform="rotate(-90 353.27 376.6)">P03_P</text>
<text x="364.49" y="376.6" font-size="7.8" text-anchor="end" fill="#1a1a1a" textLength="24.3" lengthAdjust="spacingAndGlyphs" transform="rotate(-90 364.49 376.6)">P04_N</text>
<text x="375.71" y="376.6" font-size="7.8" text-anchor="end" fill="#1a1a1a" textLength="24.3" lengthAdjust="spacingAndGlyphs" transform="rotate(-90 375.71 376.6)">P04_P</text>
<text x="386.93" y="376.6" font-size="7.8" text-anchor="end" fill="#1a1a1a" textLength="24.3" lengthAdjust="spacingAndGlyphs" transform="rotate(-90 386.93 376.6)">P05_N</text>
<text x="398.15" y="376.6" font-size="7.8" text-anchor="end" fill="#1a1a1a" textLength="24.3" lengthAdjust="spacingAndGlyphs" transform="rotate(-90 398.15 376.6)">P05_P</text>
<text x="409.37" y="376.6" font-size="7.8" text-anchor="end" fill="#1a1a1a" textLength="24.3" lengthAdjust="spacingAndGlyphs" transform="rotate(-90 409.37 376.6)">P10_N</text>
<text x="420.59" y="376.6" font-size="7.8" text-anchor="end" fill="#1a1a1a" textLength="24.3" lengthAdjust="spacingAndGlyphs" transform="rotate(-90 420.59 376.6)">P10_P</text>
</svg>
<svg class="ov" width="520" height="408" viewBox="0 0 520 408">
<rect x="0" y="0" width="520" height="1.1" fill="#4f4f4f"/>
<rect x="0" y="0" width="1.1" height="408" fill="#4f4f4f"/>
<rect x="518.7" y="0" width="1.3" height="408" fill="#3d3d3d"/>
<rect x="0" y="406.7" width="520" height="1.3" fill="#3d3d3d"/>
</svg>
</body></html>
